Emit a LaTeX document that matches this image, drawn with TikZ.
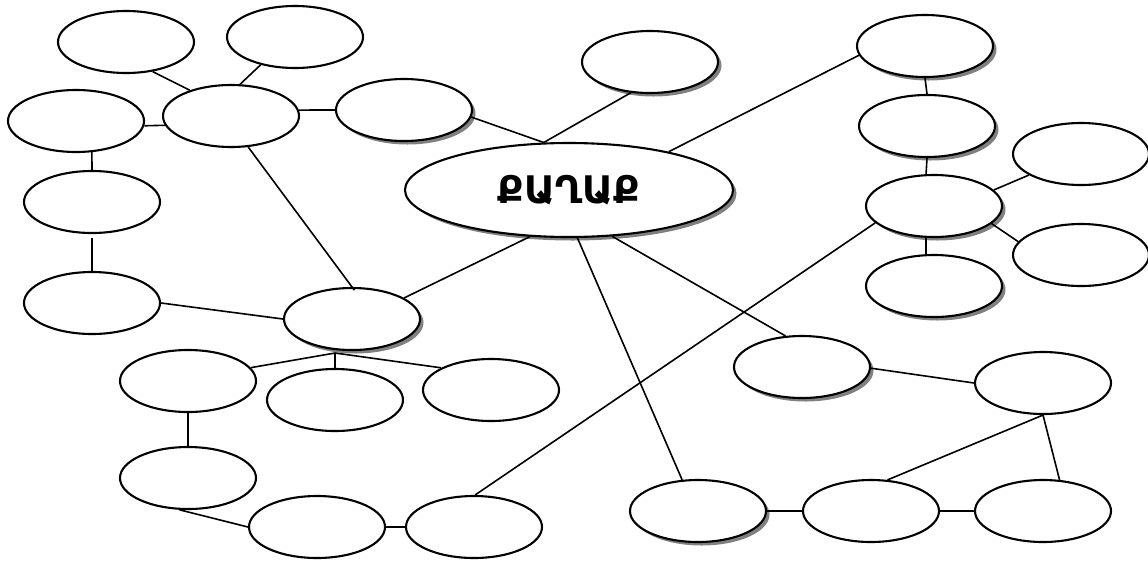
\documentclass[tikz,border=0pt]{standalone}
\usepackage{fontspec}
\newfontfamily\armfont{DejaVu Sans}
\usetikzlibrary{shapes.geometric,shadows}
\tikzset{
  bub/.style={ellipse, draw=black, line width=2.1pt, fill=white, minimum width=136pt, minimum height=62pt, inner sep=0pt},
  shbub/.style={bub, drop shadow={shadow xshift=3.5pt, shadow yshift=-3.5pt, fill=black!50, opacity=1}},
  link/.style={draw=black, line width=1.6pt}
}
\begin{document}
\begin{tikzpicture}[x=1pt,y=-1pt]
\useasboundingbox (0,0) rectangle (1148,563);
\fill[white] (0,0) rectangle (1148,563);
% nodes
\node[bub]   (ea) at (126,42)  {};
\node[bub]   (eb) at (295,37)  {};
\node[bub]   (ec) at (76,121)  {};
\node[bub]   (ed) at (231,116) {};
\node[shbub] (ee) at (404,110) {};
\node[shbub] (ef) at (650,62)  {};
\node[shbub, minimum width=328pt, minimum height=94pt] (q) at (569,190) {\armfont\bfseries\fontsize{38}{42}\selectfont ՔԱՂԱՔ};
\node[shbub] (eg) at (925,46)  {};
\node[shbub] (eh) at (927,126) {};
\node[shbub] (ei) at (934,206) {};
\node[bub]   (ej) at (1081,154) {};
\node[bub]   (ek) at (1081,255) {};
\node[shbub] (el) at (934,286) {};
\node[shbub] (em) at (802,367) {};
\node[bub]   (en) at (1043,383) {};
\node[shbub] (eo) at (698,511) {};
\node[bub]   (ep) at (871,511) {};
\node[bub]   (eq) at (1043,511) {};
\node[bub]   (er) at (92,202)  {};
\node[bub]   (es) at (92,303)  {};
\node[shbub] (et) at (352,319) {};
\node[bub]   (eu) at (188,381) {};
\node[bub]   (ev) at (335,400) {};
\node[bub]   (ew) at (491,390) {};
\node[bub]   (ex) at (188,478) {};
\node[bub]   (ey) at (317,527) {};
\node[bub]   (ez) at (474,527) {};
\coordinate (tj) at (335,353);
% connectors
\path[link] (ea.-48) -- (ed.148);
\path[link] (eb.-141) -- (ed.74);
\path[link] (ec.-4) -- (ed.-172);
\path[link] (ed.5) -- (ee.180);
\path[link] (ec.-63) -- (er.90);
\path[link, shorten <=4pt] (er.south) -- (es.north);
\path[link] (es.0) -- (et.180);
\path[link, shorten >=-4pt] (ed.-61) -- (et.north);
\path[link] (ee.-6) -- (q.118);
\path[link] (ef.-122) -- (q.118);
\path[link] (q.21) -- (eg.-172);
\path[link] (q.-130) -- (et.22);
\path[link] (q.-80) -- (eo.117);
\path[link] (q.-47) -- (em.118);
\path[link] (ei.-164) -- (ez.88);
\path[link] (eg.south) -- (eh.north);
\path[link] (eh.south) -- (ei.104);
\path[link] (ei.-104) -- (el.104);
\path[link] (ei.15) -- (ej.-158);
\path[link] (ei.-17) -- (ek.168);
\path[link] (em.-1) -- (en.180);
\path[link] (en.south) -- (ep.62);
\path[link] (en.south) -- (eq.62);
\path[link] (eo.east) -- (ep.west);
\path[link] (ep.east) -- (eq.west);
\path[link] (tj) -- (eu.12);
\path[link] (tj) -- (ev.north);
\path[link] (tj) -- (ew.156);
\path[link] (eu.south) -- (ex.north);
\path[link] (ex.-105) -- (ey.180);
\path[link] (ey.east) -- (ez.west);
\end{tikzpicture}
\end{document}
